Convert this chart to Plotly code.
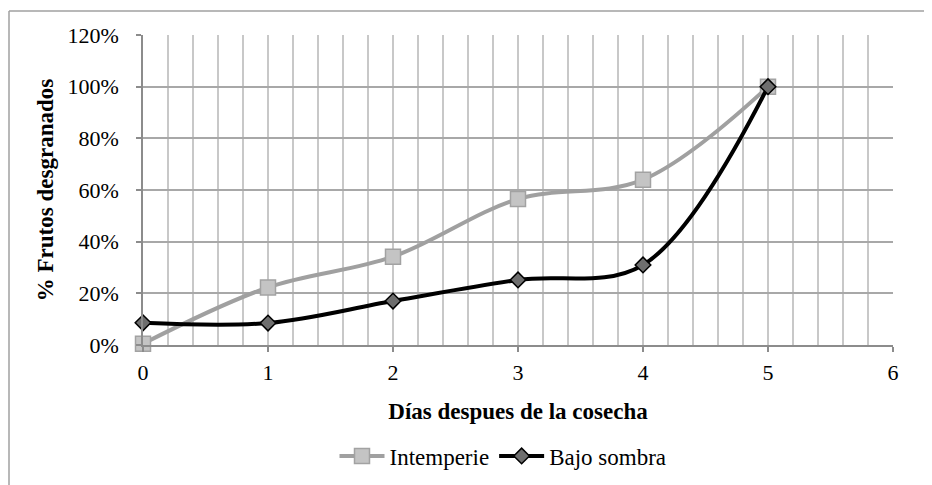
import plotly.graph_objects as go

dias = [0, 1, 2, 3, 4, 5]
intemperie = [0.005, 0.223, 0.342, 0.565, 0.64, 1.0]
bajo_sombra = [0.086, 0.085, 0.17, 0.252, 0.31, 1.0]
y_ticks = [0, 0.2, 0.4, 0.6, 0.8, 1.0, 1.2]

FONT = "'Times New Roman', 'Liberation Serif', 'DejaVu Serif', serif"

# Page body has an 8px margin, so the figure is sized to fit the window.
W, H = 924, 477
L, R, T, B = 135, 39, 27, 140
PW, PH = W - L - R, H - T - B

fig = go.Figure()
fig.add_trace(go.Scatter(
    x=dias, y=intemperie, name="Intemperie", mode="lines+markers",
    line=dict(color="#a0a0a0", width=4, shape="spline", smoothing=1.0),
    marker=dict(symbol="square", size=15, color="#c4c4c4",
                line=dict(color="#a2a2a2", width=1.5)),
    cliponaxis=False,
))
fig.add_trace(go.Scatter(
    x=dias, y=bajo_sombra, name="Bajo sombra", mode="lines+markers",
    line=dict(color="#000000", width=4, shape="spline", smoothing=1.0),
    marker=dict(symbol="diamond", size=12, color="#6e6e6e",
                line=dict(color="#000000", width=1.5)),
    cliponaxis=False,
))

fig.update_layout(
    width=W, height=H,
    margin=dict(l=L, r=R, t=T, b=B, autoexpand=False),
    paper_bgcolor="white", plot_bgcolor="white",
    font=dict(family=FONT, size=22, color="#000000"),
    showlegend=True,
    legend=dict(orientation="h", x=0.48, xanchor="center", y=-0.358, yanchor="middle",
                font=dict(family=FONT, size=23), itemwidth=45, tracegroupgap=0,
                bgcolor="rgba(0,0,0,0)"),
    xaxis=dict(
        range=[0, 6], tickmode="array", tickvals=dias + [6], ticktext=[str(v) for v in dias + [6]],
        showline=True, linecolor="#8c8c8c", linewidth=1.5,
        ticks="outside", ticklen=5, tickcolor="#8c8c8c", tickwidth=1.5,
        showgrid=True, gridcolor="#c8c8c8", gridwidth=1.5,
        minor=dict(dtick=0.2, showgrid=True, gridcolor="#c8c8c8", gridwidth=1.5, ticks=""),
        zeroline=False, ticklabelstandoff=2, automargin=False,
        title=dict(text="<b>Días despues de la cosecha</b>", font=dict(family=FONT, size=23), standoff=19),
        tickfont=dict(family=FONT, size=22),
    ),
    yaxis=dict(
        range=[0, 1.2], tickmode="array", tickvals=y_ticks,
        ticktext=[f"{int(round(v*100))}%" for v in y_ticks],
        showline=True, linecolor="#8c8c8c", linewidth=1.5,
        ticks="outside", ticklen=5, tickcolor="#8c8c8c", tickwidth=1.5,
        showgrid=True, gridcolor="#a8a8a8", gridwidth=1.5,
        zeroline=False, ticklabelstandoff=13, automargin=False,
        title=dict(text="<b>% Frutos desgranados</b>", font=dict(family=FONT, size=23), standoff=7),
        tickfont=dict(family=FONT, size=22),
    ),
)

# Outer chart frame (top and left edges visible)
fx0 = (1 - L) / PW
fy1 = (PH + T - 3) / PH
fig.add_shape(type="line", xref="paper", yref="paper",
              x0=fx0, x1=(W - L) / PW, y0=fy1, y1=fy1,
              line=dict(color="#a0a0a0", width=1.5))
fig.add_shape(type="line", xref="paper", yref="paper",
              x0=fx0, x1=fx0, y0=fy1, y1=-B / PH,
              line=dict(color="#a0a0a0", width=1.5))

fig.write_html("out.html")
